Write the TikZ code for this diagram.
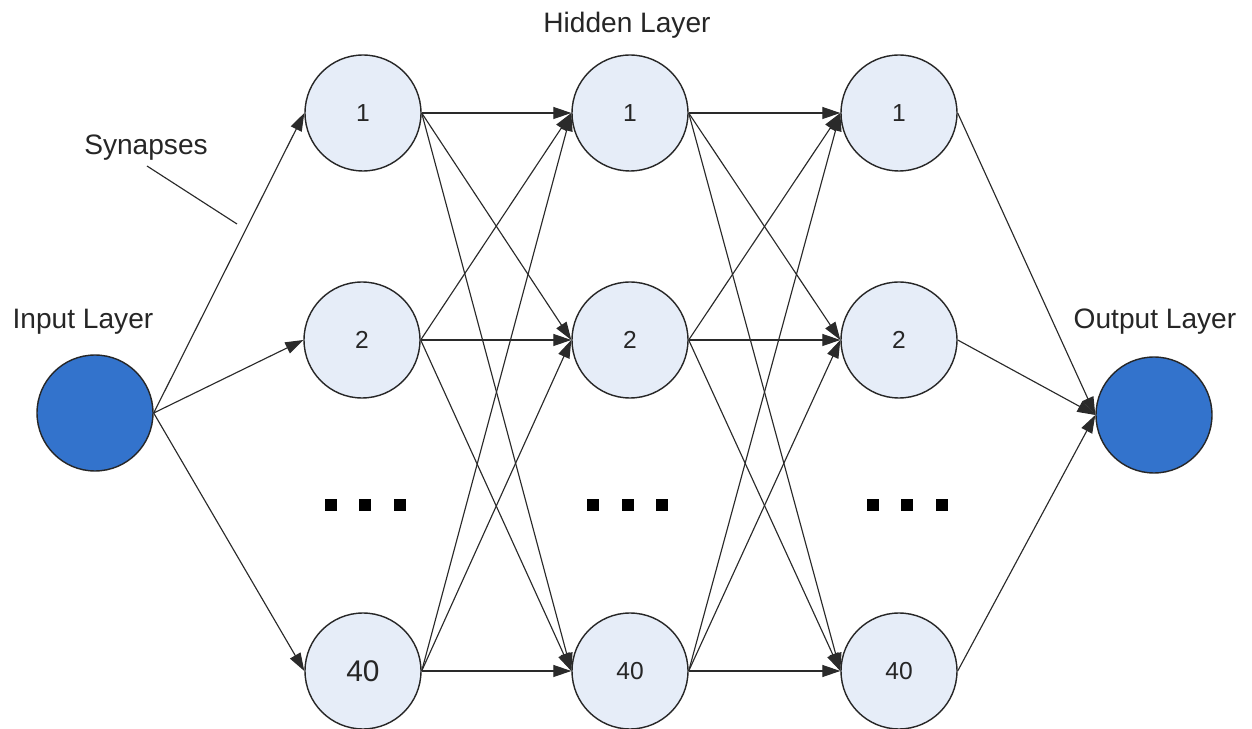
\documentclass[tikz,border=0pt]{standalone}
\usepackage{fontspec}
\setmainfont{Liberation Sans}
\usetikzlibrary{arrows.meta}
\definecolor{hidfill}{HTML}{E6EDF8}
\definecolor{iofill}{HTML}{3373CC}
\definecolor{edgecol}{HTML}{2A2A2A}
\tikzset{
  neuron/.style={circle, draw=black!85, line width=0.8pt, fill=hidfill, minimum size=2.32cm, inner sep=0pt, font=\fontsize{14}{16}\selectfont, text=black!85},
  ionode/.style={circle, draw=black!85, line width=0.8pt, fill=iofill, minimum size=2.32cm, inner sep=0pt},
  syn/.style={draw=edgecol, line width=0.65pt, -{Triangle[length=0.36cm, width=0.24cm]}},
  lbl/.style={font=\fontsize{16}{19}\selectfont, text=black!85},
  dotsq/.style={fill=black, minimum size=0.24cm, inner sep=0pt, draw=none}
}
\begin{document}
\begin{tikzpicture}[x=0.02cm, y=-0.02cm]
\useasboundingbox (0,0) rectangle (1252,729);
% input and output
\node[ionode] (in) at (95,413) {};
\node[ionode] (out) at (1154,415) {};
% hidden layers
\node[neuron] (a1) at (363,113) {1};
\node[neuron] (a2) at (362,340) {2};
\node[neuron, font=\fontsize{17}{19}\selectfont] (a40) at (363,671) {40};
\node[neuron] (b1) at (630,113) {1};
\node[neuron] (b2) at (630,340) {2};
\node[neuron] (b40) at (630,671) {40};
\node[neuron] (c1) at (899,113) {1};
\node[neuron] (c2) at (899,340) {2};
\node[neuron] (c40) at (899,671) {40};
% labels
\node[lbl] (tin) at (83,322) {Input Layer};
\node[lbl] (tout) at (1155,322) {Output Layer};
\node[lbl] (thid) at (627,25) {Hidden Layer};
\node[lbl] (tsyn) at (146,148) {Synapses};
\coordinate (s1) at (147,166);
\coordinate (s2) at (237,224);
\draw[edgecol, line width=0.65pt] (s1) -- (s2);
% dots
\foreach \x [count=\k] in {331,365,400} \node[dotsq] (da\k) at (\x,505) {};
\foreach \x [count=\k] in {593,628,662} \node[dotsq] (db\k) at (\x,505) {};
\foreach \x [count=\k] in {873,907,942} \node[dotsq] (dc\k) at (\x,505) {};
% connections
\foreach \t in {1,2,40} \draw[syn] (in.east) -- (a\t.west);
\foreach \s in {1,2,40} {
  \foreach \t in {1,2,40} {
    \draw[syn] (a\s.east) -- (b\t.west);
    \draw[syn] (b\s.east) -- (c\t.west);
  }
  \draw[syn] (c\s.east) -- (out.west);
}
\end{tikzpicture}
\end{document}
